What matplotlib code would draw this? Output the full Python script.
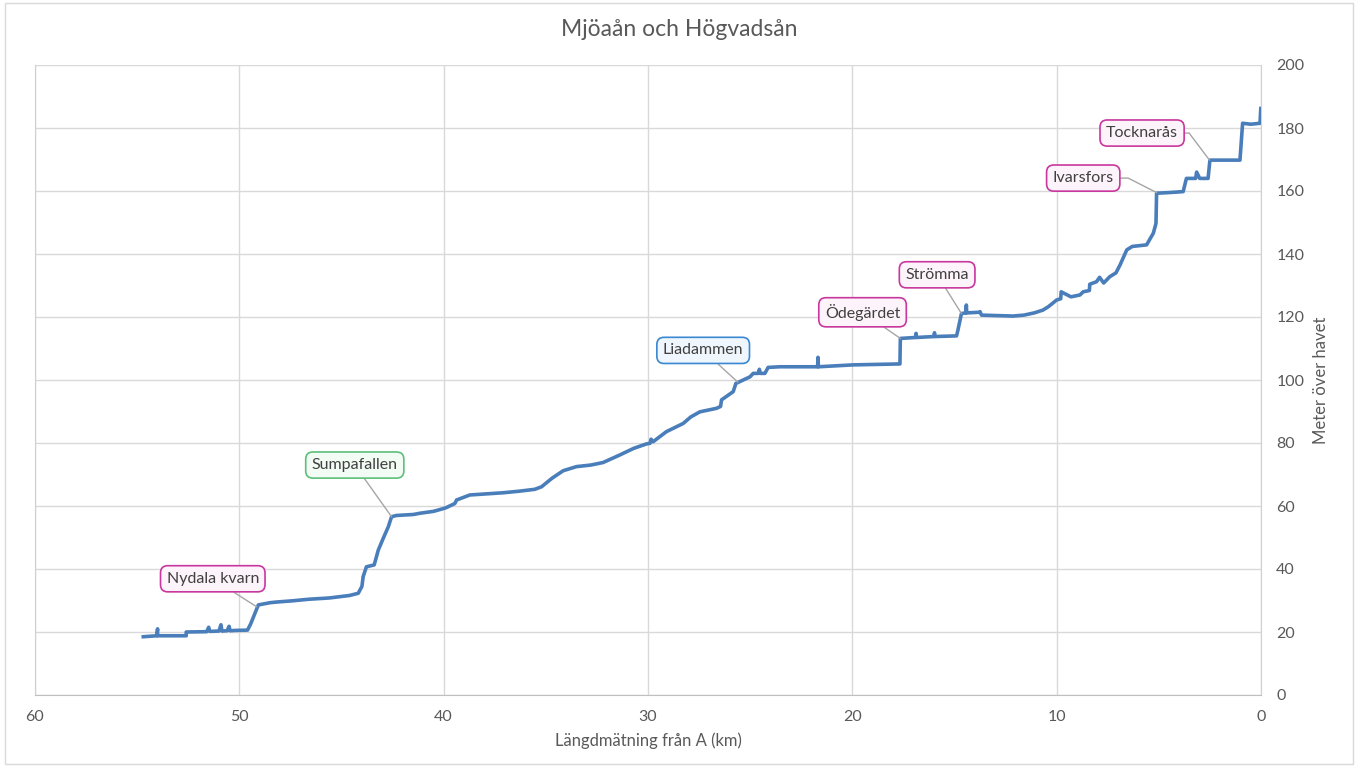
import matplotlib
matplotlib.use("Agg")
import matplotlib.pyplot as plt
from matplotlib.patches import Rectangle

plt.rcParams["font.family"] = ["Lato", "DejaVu Sans"]

# längdmätning (km från A) och höjd (m ö.h.)
km = [54.7, 54.05, 54.0, 54.0, 53.95, 52.6, 52.6, 51.6, 51.5, 51.45, 51.0, 50.9, 50.85,
      50.6, 50.5, 50.45, 50.2, 49.6, 49.45, 49.3, 49.07, 48.9, 48.5, 48.2, 47.4, 46.6,
      45.6, 44.6, 44.18, 44.0, 43.94, 43.78, 43.4, 43.2, 42.96, 42.71, 42.55, 42.3,
      41.49, 41.16, 40.5, 40.0, 39.87, 39.45, 39.37, 38.72, 38.0, 37.09, 36.3, 35.54,
      35.21, 34.7, 34.15, 33.5, 32.8, 32.2, 31.38, 30.7, 30.08, 29.9, 29.85, 29.75,
      29.1, 28.28, 27.9, 27.46, 26.65, 26.45, 26.4, 25.83, 25.7, 25.5, 25.01, 24.85,
      24.6, 24.55, 24.5, 24.28, 24.12, 23.54, 21.7, 21.68, 21.66, 19.96, 17.67, 17.65,
      16.9, 16.88, 16.86, 16.0, 15.98, 15.96, 14.9, 14.83, 14.66, 14.45, 14.42, 14.4,
      13.8, 13.75, 13.68, 13.2, 12.14, 11.6, 11.1, 10.67, 10.4, 10.0, 9.8, 9.78, 9.3,
      8.86, 8.7, 8.4, 8.38, 8.05, 7.9, 7.7, 7.4, 7.1, 6.9, 6.57, 6.3, 5.6, 5.27, 5.14,
      5.11, 4.5, 3.81, 3.65, 3.2, 3.15, 3.0, 2.59, 2.5, 1.03, 0.9, 0.5, 0.05, 0.01]
hoejd = [18.5, 18.8, 21.0, 18.8, 18.8, 18.8, 20.0, 20.1, 21.5, 20.2, 20.3, 22.3, 20.3,
         20.4, 21.8, 20.4, 20.5, 20.6, 22.5, 24.9, 28.6, 28.8, 29.3, 29.5, 29.9, 30.4,
         30.8, 31.6, 32.3, 34.5, 37.6, 40.7, 41.3, 46.0, 49.7, 53.4, 56.6, 57.0,
         57.3, 57.7, 58.3, 59.2, 59.5, 60.8, 61.9, 63.5, 63.8, 64.2, 64.7, 65.3,
         66.1, 68.8, 71.2, 72.5, 73.0, 73.8, 76.2, 78.3, 79.7, 79.9, 81.2, 80.4,
         83.6, 86.2, 88.3, 89.9, 91.0, 91.6, 93.7, 96.3, 98.9, 99.5, 101.0, 102.1,
         102.1, 103.4, 102.1, 102.1, 104.0, 104.2, 104.2, 107.2, 104.2, 104.8, 105.1, 113.2,
         113.5, 114.8, 113.5, 113.8, 115.0, 113.8, 114.0, 115.9, 121.1, 121.3, 123.8, 121.3,
         121.5, 121.7, 120.6, 120.5, 120.3, 120.6, 121.3, 122.2, 123.3, 125.4, 125.8, 128.0,
         126.4, 127.0, 128.0, 128.4, 130.4, 131.2, 132.6, 130.8, 132.8, 134.0, 136.5, 141.3,
         142.4, 142.9, 146.6, 149.7, 159.3, 159.5, 159.8, 164.0, 164.0, 166.0, 164.0, 164.0,
         169.8, 169.8, 181.5, 181.2, 181.5, 186.2]

etiketter = ["Nydala kvarn", "Sumpafallen", "Liadammen", "Ödegärdet", "Strömma",
             "Ivarsfors", "Tocknarås"]
etikett_km = [49.15, 42.55, 25.6, 17.65, 14.66, 5.11, 2.52]
etikett_m = [28.0, 56.6, 99.3, 113.2, 121.1, 159.5, 169.8]
text_km = [51.3, 44.35, 27.3, 19.5, 15.85, 8.7, 5.82]
text_m = [36.9, 73.0, 109.4, 121.5, 133.4, 164.1, 178.4]
# vinkel på ledarlinjens sista del (None = rak linje)
knaeck = [None, None, None, None, None, 153, 127]

rosa = ("#C8379E", "#FDF3FA")
gron = ("#5CC07A", "#F2FBF4")
bla = ("#3A87D2", "#F0F6FD")
boxfarger = [rosa, gron, bla, rosa, rosa, rosa, rosa]

fig = plt.figure(figsize=(13.58, 7.67), dpi=100)
ax = fig.add_axes([35 / 1358, 1 - 695 / 767, (1261 - 35) / 1358, (695 - 65) / 767])

ax.plot(km, hoejd, color="#4A7EBB", lw=2.6, solid_joinstyle="round", zorder=3)

ax.set_xlim(60, 0)
ax.set_ylim(0, 200)
ax.set_xticks(range(60, -1, -10))
ax.set_yticks(range(0, 201, 20))
ax.yaxis.tick_right()
ax.yaxis.set_label_position("right")
ax.grid(True, color="#D9D9D9", lw=1.0)
ax.set_axisbelow(True)
ax.spines["top"].set_visible(False)
for s in ["left", "right"]:
    ax.spines[s].set_color("#D0D0D0")
ax.spines["bottom"].set_color("#BFBFBF")
ax.tick_params(length=0, labelsize=11.5, labelcolor="#595959")
ax.tick_params(axis="x", pad=11)
ax.tick_params(axis="y", pad=11)
ax.set_xlabel("Längdmätning från A (km)", fontsize=12, color="#595959", labelpad=6)
ax.set_ylabel("Meter över havet", fontsize=12, color="#595959", labelpad=6)
fig.text(0.5, 1 - 30 / 767, "Mjöaån och Högvadsån", fontsize=16.5, color="#595959",
         ha="center", va="center")

for namn, xk, ym, tx, ty, (kant, fyll), vinkel in zip(etiketter, etikett_km, etikett_m,
                                                       text_km, text_m, boxfarger, knaeck):
    if vinkel is None:
        stil = "arc3,rad=0"
    else:
        stil = f"angle,angleA=0,angleB={vinkel},rad=0"
    ax.annotate(namn, xy=(xk, ym), xytext=(tx, ty), fontsize=11.5, color="#404040",
                ha="center", va="center", zorder=5,
                bbox=dict(boxstyle="round,pad=0.38,rounding_size=0.45", fc=fyll, ec=kant, lw=1.2),
                arrowprops=dict(arrowstyle="-", color="#A6A6A6", lw=1.0,
                                shrinkA=0, shrinkB=0, connectionstyle=stil))

fig.patches.append(Rectangle((0.004, 0.004), 0.992, 0.992, transform=fig.transFigure,
                             fill=False, ec="#D9D9D9", lw=1.0))

fig.savefig("out.png", dpi=100)
